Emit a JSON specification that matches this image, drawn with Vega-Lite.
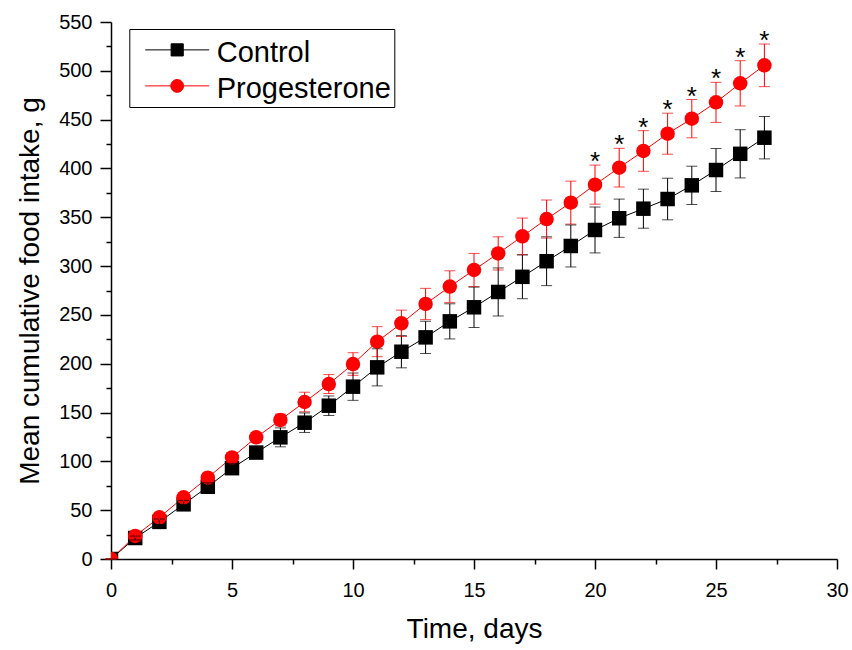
{
  "$schema": "https://vega.github.io/schema/vega-lite/v6.json",
  "width": 726,
  "height": 537,
  "autosize": {"type": "none"},
  "padding": {"left": 111, "top": 22, "right": 15, "bottom": 91},
  "background": "white",
  "data": {"values": [
    {"day": 0, "group": "Control", "mean": 0, "err": 0, "sig": ""},
    {"day": 1, "group": "Control", "mean": 21.5, "err": 2, "sig": ""},
    {"day": 2, "group": "Control", "mean": 38, "err": 3, "sig": ""},
    {"day": 3, "group": "Control", "mean": 56, "err": 4, "sig": ""},
    {"day": 4, "group": "Control", "mean": 74, "err": 4, "sig": ""},
    {"day": 5, "group": "Control", "mean": 93, "err": 5, "sig": ""},
    {"day": 6, "group": "Control", "mean": 109, "err": 6, "sig": ""},
    {"day": 7, "group": "Control", "mean": 124.6, "err": 9.7, "sig": ""},
    {"day": 8, "group": "Control", "mean": 139.6, "err": 10, "sig": ""},
    {"day": 9, "group": "Control", "mean": 157, "err": 10, "sig": ""},
    {"day": 10, "group": "Control", "mean": 176.5, "err": 14, "sig": ""},
    {"day": 11, "group": "Control", "mean": 196.3, "err": 19, "sig": ""},
    {"day": 12, "group": "Control", "mean": 212.3, "err": 16.5, "sig": ""},
    {"day": 13, "group": "Control", "mean": 227, "err": 16.5, "sig": ""},
    {"day": 14, "group": "Control", "mean": 243.4, "err": 18, "sig": ""},
    {"day": 15, "group": "Control", "mean": 257.8, "err": 20.7, "sig": ""},
    {"day": 16, "group": "Control", "mean": 273.5, "err": 24.6, "sig": ""},
    {"day": 17, "group": "Control", "mean": 289, "err": 22.4, "sig": ""},
    {"day": 18, "group": "Control", "mean": 305, "err": 25, "sig": ""},
    {"day": 19, "group": "Control", "mean": 320.6, "err": 21.5, "sig": ""},
    {"day": 20, "group": "Control", "mean": 337, "err": 23.5, "sig": ""},
    {"day": 21, "group": "Control", "mean": 349, "err": 19.6, "sig": ""},
    {"day": 22, "group": "Control", "mean": 358.8, "err": 20, "sig": ""},
    {"day": 23, "group": "Control", "mean": 368.7, "err": 21.3, "sig": ""},
    {"day": 24, "group": "Control", "mean": 382.7, "err": 19.6, "sig": ""},
    {"day": 25, "group": "Control", "mean": 398.4, "err": 22, "sig": ""},
    {"day": 26, "group": "Control", "mean": 415, "err": 24.7, "sig": ""},
    {"day": 27, "group": "Control", "mean": 431.5, "err": 21.7, "sig": ""},
    {"day": 0, "group": "Progesterone", "mean": 0, "err": 0, "sig": ""},
    {"day": 1, "group": "Progesterone", "mean": 23.6, "err": 2, "sig": ""},
    {"day": 2, "group": "Progesterone", "mean": 42.7, "err": 3, "sig": ""},
    {"day": 3, "group": "Progesterone", "mean": 63.2, "err": 4, "sig": ""},
    {"day": 4, "group": "Progesterone", "mean": 83.3, "err": 4, "sig": ""},
    {"day": 5, "group": "Progesterone", "mean": 104, "err": 5, "sig": ""},
    {"day": 6, "group": "Progesterone", "mean": 124.6, "err": 5, "sig": ""},
    {"day": 7, "group": "Progesterone", "mean": 142.4, "err": 6, "sig": ""},
    {"day": 8, "group": "Progesterone", "mean": 160.8, "err": 10, "sig": ""},
    {"day": 9, "group": "Progesterone", "mean": 179.2, "err": 9.7, "sig": ""},
    {"day": 10, "group": "Progesterone", "mean": 199.7, "err": 11.6, "sig": ""},
    {"day": 11, "group": "Progesterone", "mean": 222.6, "err": 15.4, "sig": ""},
    {"day": 12, "group": "Progesterone", "mean": 241.4, "err": 13.5, "sig": ""},
    {"day": 13, "group": "Progesterone", "mean": 261.2, "err": 16, "sig": ""},
    {"day": 14, "group": "Progesterone", "mean": 279, "err": 16.2, "sig": ""},
    {"day": 15, "group": "Progesterone", "mean": 296, "err": 17, "sig": ""},
    {"day": 16, "group": "Progesterone", "mean": 313, "err": 17, "sig": ""},
    {"day": 17, "group": "Progesterone", "mean": 330.5, "err": 18.7, "sig": ""},
    {"day": 18, "group": "Progesterone", "mean": 348.2, "err": 19.5, "sig": ""},
    {"day": 19, "group": "Progesterone", "mean": 365, "err": 22, "sig": ""},
    {"day": 20, "group": "Progesterone", "mean": 383.4, "err": 20, "sig": "*"},
    {"day": 21, "group": "Progesterone", "mean": 400.8, "err": 19.8, "sig": "*"},
    {"day": 22, "group": "Progesterone", "mean": 417.9, "err": 20.8, "sig": "*"},
    {"day": 23, "group": "Progesterone", "mean": 435.6, "err": 21, "sig": "*"},
    {"day": 24, "group": "Progesterone", "mean": 451, "err": 19.6, "sig": "*"},
    {"day": 25, "group": "Progesterone", "mean": 467.7, "err": 20.5, "sig": "*"},
    {"day": 26, "group": "Progesterone", "mean": 487.2, "err": 23.2, "sig": "*"},
    {"day": 27, "group": "Progesterone", "mean": 505.6, "err": 21.8, "sig": "*"}
  ]},
  "resolve": {"axis": {"x": "independent", "y": "independent"}},
  "layer": [
    {
      "mark": {"type": "line", "strokeWidth": 1, "clip": true},
      "encoding": {
        "x": {"field": "day", "type": "quantitative", "scale": {"domain": [0, 30], "nice": false},
          "axis": {"orient": "bottom", "values": [0, 5, 10, 15, 20, 25, 30], "tickSize": 10, "labelPadding": 11, "title": "Time, days", "titlePadding": 15, "labelFlush": false, "labelOverlap": false}},
        "y": {"field": "mean", "type": "quantitative", "scale": {"domain": [0, 550], "nice": false},
          "axis": {"orient": "left", "values": [0, 50, 100, 150, 200, 250, 300, 350, 400, 450, 500, 550], "tickSize": 11, "labelPadding": 8, "title": "Mean cumulative food intake, g", "titlePadding": 14, "labelOverlap": false}},
        "color": {"field": "group", "type": "nominal", "scale": {"domain": ["Control", "Progesterone"], "range": ["#000000", "#ff0000"]},
          "legend": {
            "title": null, "orient": "none", "legendX": 18.3, "legendY": 7,
            "padding": 3, "rowPadding": -2, "clipHeight": 30,
            "symbolSize": 4096, "symbolOffset": 12.4, "symbolStrokeWidth": 1,
            "symbolType": "M-1,0.09H1",
            "labelOffset": 7, "labelFontSize": 29, "labelFont": "Liberation Sans", "labelColor": "black", "labelLimit": 400,
            "strokeColor": "black", "fillColor": "white",
            "encode": {
              "symbols": {"update": {
                "shape": {"signal": "datum.value === 'Control' ? 'M-1,0.09H1M-0.19,-0.1H0.19V0.28H-0.19Z' : 'M-1,0.09H1M0.2,0.09A0.2,0.2,0,1,1,-0.2,0.09A0.2,0.2,0,1,1,0.2,0.09Z'"},
                "stroke": {"signal": "datum.value === 'Control' ? '#000000' : '#ff0000'"},
                "fill": {"signal": "datum.value === 'Control' ? '#000000' : '#ff0000'"},
                "strokeWidth": {"value": 1},
                "opacity": {"value": 1}
              }},
              "labels": {"update": {"dy": {"value": 6}}}
            }
          }},
        "order": {"field": "day", "type": "quantitative"}
      }
    },
    {
      "transform": [{"filter": "datum.group === 'Control'"}],
      "mark": {"type": "point", "filled": true, "opacity": 1, "size": 210, "shape": "square", "clip": true},
      "encoding": {
        "x": {"field": "day", "type": "quantitative",
          "axis": {"orient": "bottom", "values": [2.5, 7.5, 12.5, 17.5, 22.5, 27.5], "tickSize": 5, "labels": false, "domain": false, "title": null}},
        "y": {"field": "mean", "type": "quantitative",
          "axis": {"orient": "left", "values": [25, 75, 125, 175, 225, 275, 325, 375, 425, 475, 525], "tickSize": 5, "labels": false, "domain": false, "title": null}},
        "color": {"field": "group", "type": "nominal"}
      }
    },
    {
      "transform": [{"filter": "datum.group === 'Progesterone'"}],
      "mark": {"type": "point", "filled": true, "opacity": 1, "size": 210, "shape": "circle", "clip": true},
      "encoding": {
        "x": {"field": "day", "type": "quantitative", "axis": null},
        "y": {"field": "mean", "type": "quantitative", "axis": null},
        "color": {"field": "group", "type": "nominal"}
      }
    },
    {
      "mark": {"type": "errorbar", "ticks": {"size": 11}, "thickness": 1},
      "encoding": {
        "x": {"field": "day", "type": "quantitative", "axis": null},
        "y": {"field": "mean", "type": "quantitative", "axis": null},
        "yError": {"field": "err"},
        "color": {"field": "group", "type": "nominal"}
      }
    },
    {
      "transform": [
        {"filter": "datum.sig === '*'"},
        {"calculate": "datum.mean + datum.err", "as": "upper"}
      ],
      "mark": {"type": "text", "font": "Liberation Sans", "fontSize": 26, "baseline": "alphabetic", "align": "center", "dy": 5, "color": "black"},
      "encoding": {
        "x": {"field": "day", "type": "quantitative", "axis": null},
        "y": {"field": "upper", "type": "quantitative", "axis": null},
        "text": {"field": "sig"}
      }
    }
  ],
  "config": {
    "view": {"stroke": null},
    "font": "Liberation Sans",
    "axis": {
      "grid": false,
      "domainColor": "black", "tickColor": "black", "labelColor": "black", "titleColor": "black",
      "labelFont": "Liberation Sans", "labelFontSize": 20,
      "titleFont": "Liberation Sans", "titleFontSize": 28, "titleFontWeight": "normal",
      "domainWidth": 1.5, "tickWidth": 1.5
    }
  }
}
